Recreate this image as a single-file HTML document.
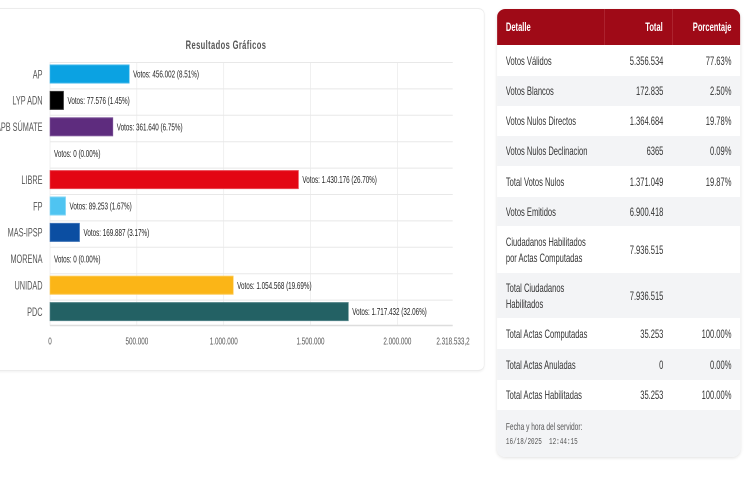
<!DOCTYPE html>
<html><head><meta charset="utf-8"><style>
html,body{margin:0;padding:0;background:#fff;}
body{width:748px;height:498px;overflow:hidden;position:relative;font-family:"Liberation Sans",Arial,sans-serif;}
#s{position:absolute;left:0;top:0;width:1188px;height:498px;transform:scaleX(0.63);transform-origin:0 0;}
.card{position:absolute;left:-30px;top:8px;width:797px;height:361px;border:1px solid #ececec;border-radius:10px/6px;box-shadow:0 1px 3px rgba(0,0,0,0.06);background:#fff;}
svg{position:absolute;left:0;top:0;}
.tbl{position:absolute;left:789px;top:9px;width:386px;border-radius:13px/8px;overflow:hidden;box-shadow:0 1px 4px rgba(0,0,0,0.12);background:#fff;}
.row{position:relative;display:flex;align-items:center;font-size:12px;color:#333;}
.row.g{background:#f3f4f6;}
.c1{width:171px;padding-left:14px;box-sizing:border-box;line-height:16px;}
.c2{width:108px;text-align:right;padding-right:15px;box-sizing:border-box;}
.c3{flex:1;text-align:right;padding-right:14px;box-sizing:border-box;}
.hd{background:#9f0a17;color:#fff;font-weight:bold;height:36px;}
.hd .c1,.hd .c2{border-right:1px solid #b3323d;height:36px;display:flex;align-items:center;}
.hd .c2{justify-content:flex-end;}
.ft{background:#f3f4f6;height:47px;padding-left:14px;color:#555;}
.ft .a{font-size:10.5px;padding-top:11px;}
.ft .b{font-family:"Liberation Mono",monospace;font-size:9.5px;padding-top:3px;white-space:pre;}
</style></head><body>
<div id="s">
<div class="card"></div>
<svg width="1188" height="498" xmlns="http://www.w3.org/2000/svg">
<text x="358.7" y="49" text-anchor="middle" font-family="Liberation Sans, sans-serif" font-size="12" font-weight="bold" letter-spacing="0.6" fill="#555">Resultados Gráficos</text>
<g stroke="#e8e8e8" stroke-width="1">
<line x1="79.4" y1="62" x2="79.4" y2="326"/>
<line x1="217.2" y1="62" x2="217.2" y2="326"/>
<line x1="355.1" y1="62" x2="355.1" y2="326"/>
<line x1="492.9" y1="62" x2="492.9" y2="326"/>
<line x1="630.8" y1="62" x2="630.8" y2="326"/>
<line x1="79.4" y1="62.5" x2="718.6" y2="62.5"/>
<line x1="79.4" y1="88.9" x2="718.6" y2="88.9"/>
<line x1="79.4" y1="115.3" x2="718.6" y2="115.3"/>
<line x1="79.4" y1="141.7" x2="718.6" y2="141.7"/>
<line x1="79.4" y1="168.1" x2="718.6" y2="168.1"/>
<line x1="79.4" y1="194.5" x2="718.6" y2="194.5"/>
<line x1="79.4" y1="220.9" x2="718.6" y2="220.9"/>
<line x1="79.4" y1="247.3" x2="718.6" y2="247.3"/>
<line x1="79.4" y1="273.7" x2="718.6" y2="273.7"/>
<line x1="79.4" y1="300.1" x2="718.6" y2="300.1"/>
</g>
<line x1="79.4" y1="325.5" x2="718.6" y2="325.5" stroke="#ddd" stroke-width="1.5"/>
<g stroke-width="1">
<rect x="79.4" y="65" width="125.7" height="18" fill="#0ba2e2" stroke="#3cb6ea"/>
<rect x="79.4" y="91.4" width="21.4" height="18" fill="#000" stroke="#333"/>
<rect x="79.4" y="117.8" width="99.7" height="18" fill="#5e2c7e" stroke="#7e569a"/>
<rect x="79.4" y="170.6" width="394.3" height="18" fill="#e30613" stroke="#ea4550"/>
<rect x="79.4" y="197" width="24.6" height="18" fill="#4fc4f1" stroke="#7dd4f5"/>
<rect x="79.4" y="223.4" width="46.8" height="18" fill="#0b4ea2" stroke="#3c72b6"/>
<rect x="79.4" y="276.2" width="290.8" height="18" fill="#fbb517" stroke="#fcc84e"/>
<rect x="79.4" y="302.6" width="473.5" height="18" fill="#236164" stroke="#4f8285"/>
</g>
<g font-family="Liberation Sans, sans-serif" font-size="11.6" fill="#555" text-anchor="end">
<text x="67.5" y="78.3">AP</text>
<text x="67.5" y="104.7">LYP ADN</text>
<text x="67.5" y="131.1">APB SÚMATE</text>
<text x="67.5" y="183.9">LIBRE</text>
<text x="67.5" y="210.3">FP</text>
<text x="67.5" y="236.7">MAS-IPSP</text>
<text x="67.5" y="263.1">MORENA</text>
<text x="67.5" y="289.5">UNIDAD</text>
<text x="67.5" y="315.9">PDC</text>
</g>
<g font-family="Liberation Sans, sans-serif" font-size="10" fill="#222">
<text x="211.4" y="77.6">Votos: 456.002 (8.51%)</text>
<text x="107.1" y="104">Votos: 77.576 (1.45%)</text>
<text x="185.4" y="130.4">Votos: 361.640 (6.75%)</text>
<text x="85.7" y="156.8">Votos: 0 (0.00%)</text>
<text x="480" y="183.2">Votos: 1.430.176 (26.70%)</text>
<text x="110.3" y="209.6">Votos: 89.253 (1.67%)</text>
<text x="132.5" y="236">Votos: 169.887 (3.17%)</text>
<text x="85.7" y="262.4">Votos: 0 (0.00%)</text>
<text x="376.4" y="288.8">Votos: 1.054.568 (19.69%)</text>
<text x="559.2" y="315.2">Votos: 1.717.432 (32.06%)</text>
</g>
<g font-family="Liberation Sans, sans-serif" font-size="10" fill="#555" text-anchor="middle">
<text x="79.4" y="344.5">0</text>
<text x="217.2" y="344.5">500.000</text>
<text x="355.1" y="344.5">1.000.000</text>
<text x="492.9" y="344.5">1.500.000</text>
<text x="630.8" y="344.5">2.000.000</text>
<text x="719" y="344.5">2.318.533,2</text>
</g>
</svg>
<div class="tbl">
<div class="row hd"><div class="c1">Detalle</div><div class="c2">Total</div><div class="c3">Porcentaje</div></div>
<div class="row" style="height:31px"><div class="c1">Votos Válidos</div><div class="c2">5.356.534</div><div class="c3">77.63%</div></div>
<div class="row g" style="height:30px"><div class="c1">Votos Blancos</div><div class="c2">172.835</div><div class="c3">2.50%</div></div>
<div class="row" style="height:30px"><div class="c1">Votos Nulos Directos</div><div class="c2">1.364.684</div><div class="c3">19.78%</div></div>
<div class="row g" style="height:30px"><div class="c1">Votos Nulos Declinacion</div><div class="c2">6365</div><div class="c3">0.09%</div></div>
<div class="row" style="height:31px"><div class="c1">Total Votos Nulos</div><div class="c2">1.371.049</div><div class="c3">19.87%</div></div>
<div class="row g" style="height:29px"><div class="c1">Votos Emitidos</div><div class="c2">6.900.418</div><div class="c3"></div></div>
<div class="row" style="height:47px"><div class="c1">Ciudadanos Habilitados<br>por Actas Computadas</div><div class="c2">7.936.515</div><div class="c3"></div></div>
<div class="row g" style="height:45px"><div class="c1">Total Ciudadanos<br>Habilitados</div><div class="c2">7.936.515</div><div class="c3"></div></div>
<div class="row" style="height:31px"><div class="c1">Total Actas Computadas</div><div class="c2">35.253</div><div class="c3">100.00%</div></div>
<div class="row g" style="height:31px"><div class="c1">Total Actas Anuladas</div><div class="c2">0</div><div class="c3">0.00%</div></div>
<div class="row" style="height:30px"><div class="c1">Total Actas Habilitadas</div><div class="c2">35.253</div><div class="c3">100.00%</div></div>
<div class="ft"><div class="a">Fecha y hora del servidor:</div><div class="b">16/18/2025  12:44:15</div></div>
</div>
</div>
</body></html>
